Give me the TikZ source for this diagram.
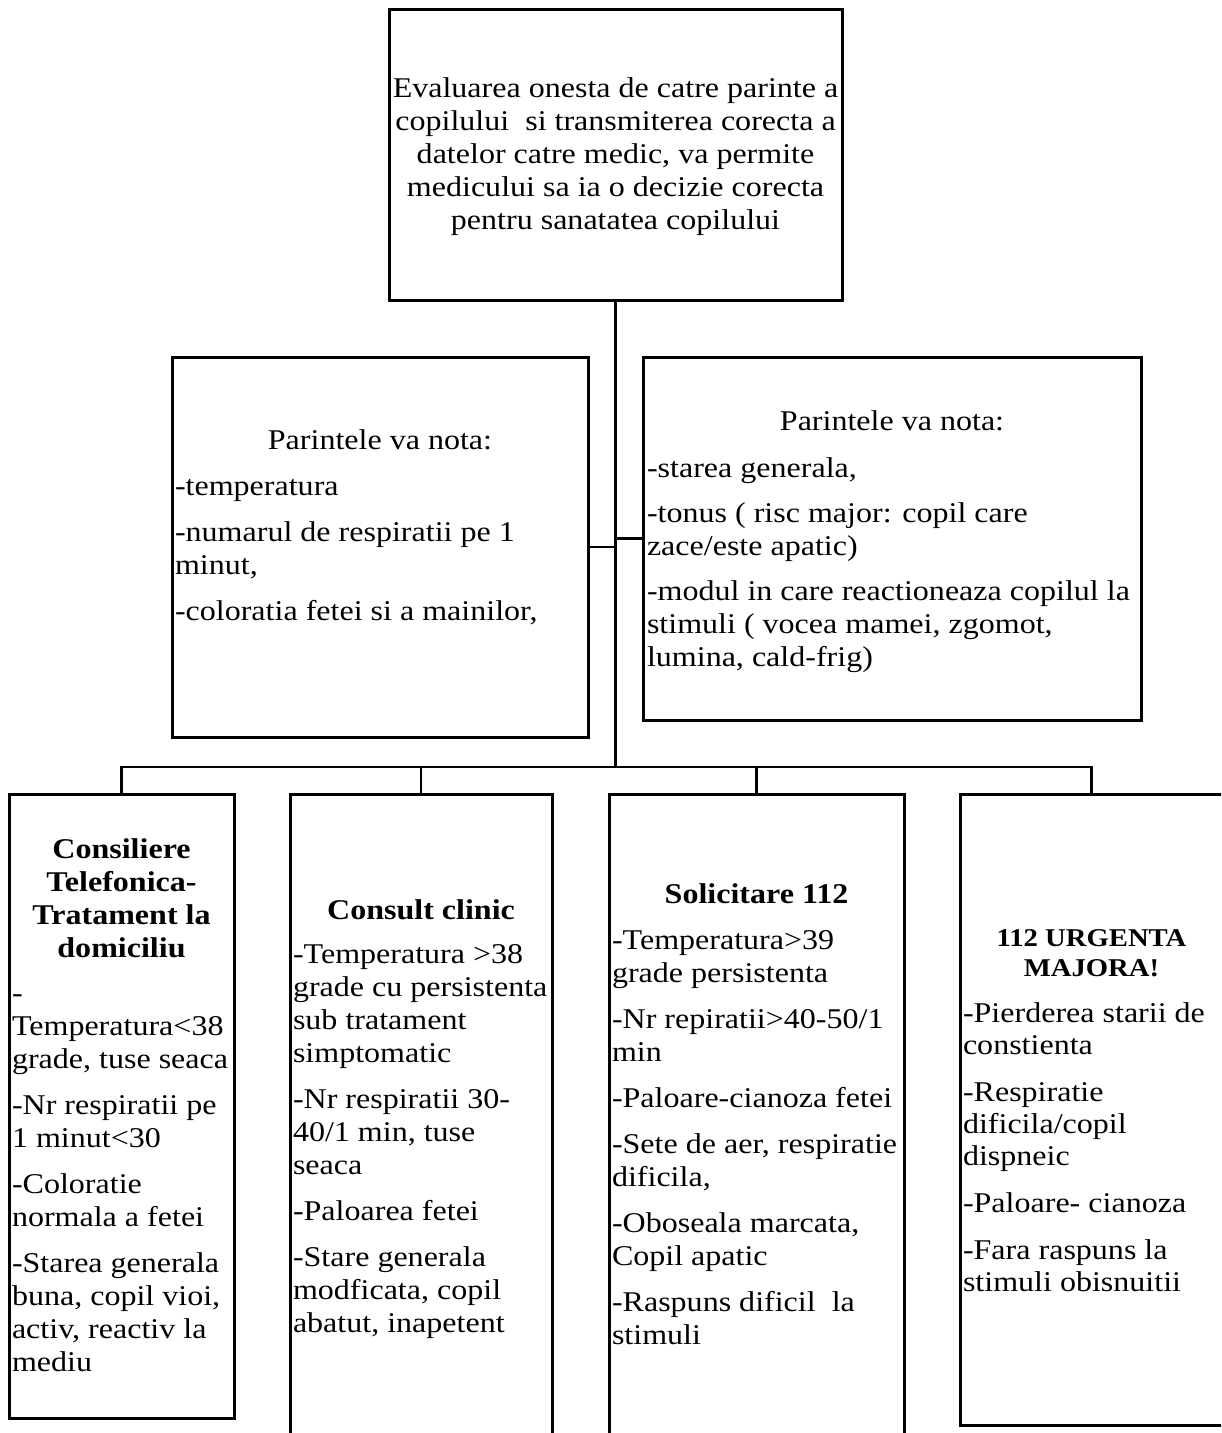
\documentclass[tikz,border=0pt]{standalone}
\usepackage{fontspec}
\setmainfont{Liberation Serif}[FakeStretch=1.12]
\newcommand\mkbox[5]{\node[boxst, minimum width={(#4-#2)*0.5pt}, minimum height={(#5-#3)*0.5pt}] (#1) at ({(#2+#4)/2},{(#3+#5)/2}) {};}
\tikzset{
  boxst/.style={draw, line width=1.5pt, inner sep=0pt, outer sep=0pt},
  conn/.style={line width=1.4pt},
  txt/.style={inner sep=0pt, outer sep=0pt, font=\fontsize{14.3}{16.5}\selectfont},
  ctxt/.style={txt, align=center, anchor=north},
  ltxt/.style={txt, align=left, anchor=north west},
  btitle/.style={ctxt, font=\fontsize{14.3}{16.5}\selectfont\bfseries},
}
\begin{document}
\begin{tikzpicture}[x=0.5pt,y=-0.5pt]
\fill[white] (0,0) rectangle (1221,1433);
\clip (0,0) rectangle (1221,1433);

% boxes
\mkbox{top}{389}{10}{842}{301}
\mkbox{lmid}{172}{357}{588}{737}
\mkbox{rmid}{643}{357}{1141}{720}
\mkbox{b1}{9}{794}{234}{1418}
\mkbox{b2}{290}{794}{552}{1450}
\mkbox{b3}{609}{794}{904}{1450}
\mkbox{b4}{960}{794}{1223}{1425}

% connectors
\coordinate (bus) at (615.5,767);
\draw[conn] (top.south) -- (bus);
\draw[conn] (lmid.east) -- (lmid.east -| bus);
\draw[conn] (rmid.west) -- (rmid.west -| bus);
\draw[conn] (b1.north) -- (b1.north |- bus) -- (b4.north |- bus) -- (b4.north);
\draw[conn] (b2.north) -- (b2.north |- bus);
\draw[conn] (b3.north) -- (b3.north |- bus);

% top text
\node[ctxt] (ttop) at (615.5,74.9) {\strut Evaluarea onesta de catre parinte a\\ copilului\ \ si transmiterea corecta a\\ datelor catre medic, va permite\\ medicului sa ia o decizie corecta\\ pentru sanatatea copilului};

% left middle
\node[ctxt] (tlmidh) at (380,425.9) {\strut Parintele va nota:};
\node[ltxt] (tlmid) at (175,471.9) {\strut -temperatura\\[6.5pt] -numarul de respiratii pe 1\\ minut,\\[6.5pt] -coloratia fetei si a mainilor,};

% right middle
\node[ctxt] (trmidh) at (892,406.9) {\strut Parintele va nota:};
\node[ltxt] (trmid) at (647,453.9) {\strut -starea generala,\\[6pt] -tonus ( risc major: copil care\\ zace/este apatic)\\[6pt] -modul in care reactioneaza copilul la\\ stimuli ( vocea mamei, zgomot,\\ lumina, cald-frig)};

% bottom 1
\node[btitle] (tb1h) at (121.5,834.9) {\strut Consiliere\\ Telefonica-\\ Tratament la\\ domiciliu};
\node[ltxt] (tb1) at (12,978.9) {\strut -\\ Temperatura<38\\ grade, tuse seaca\\[6.5pt] -Nr respiratii pe\\ 1 minut<30\\[6.5pt] -Coloratie\\ normala a fetei\\[6.5pt] -Starea generala\\ buna, copil vioi,\\ activ, reactiv la\\ mediu};

% bottom 2
\node[btitle] (tb2h) at (421,895.9) {\strut Consult clinic};
\node[ltxt] (tb2) at (293,939.9) {\strut -Temperatura >38\\ grade cu persistenta\\ sub tratament\\ simptomatic\\[6.5pt] -Nr respiratii 30-\\ 40/1 min, tuse\\ seaca\\[6.5pt] -Paloarea fetei\\[6.5pt] -Stare generala\\ modficata, copil\\ abatut, inapetent};

% bottom 3
\node[btitle] (tb3h) at (756.5,879.9) {\strut Solicitare 112};
\node[ltxt] (tb3) at (612,925.9) {\strut -Temperatura>39\\ grade persistenta\\[6.5pt] -Nr repiratii>40-50/1\\ min\\[6.5pt] -Paloare-cianoza fetei\\[6.5pt] -Sete de aer, respiratie\\ dificila,\\[6.5pt] -Oboseala marcata,\\ Copil apatic\\[6.5pt] -Raspuns dificil\ \ la\\ stimuli};

% bottom 4
\node[ctxt, font=\fontsize{12.8}{15}\selectfont\bfseries] (tb4h) at (1091.5,925) {\strut 112 URGENTA\\ MAJORA!};
\node[ltxt, font=\fontsize{14.3}{16}\selectfont] (tb4) at (963,999.6) {\strut -Pierderea starii de\\ constienta\\[7.5pt] -Respiratie\\ dificila/copil\\ dispneic\\[7.5pt] -Paloare- cianoza\\[7.5pt] -Fara raspuns la\\ stimuli obisnuitii};
\end{tikzpicture}
\end{document}
